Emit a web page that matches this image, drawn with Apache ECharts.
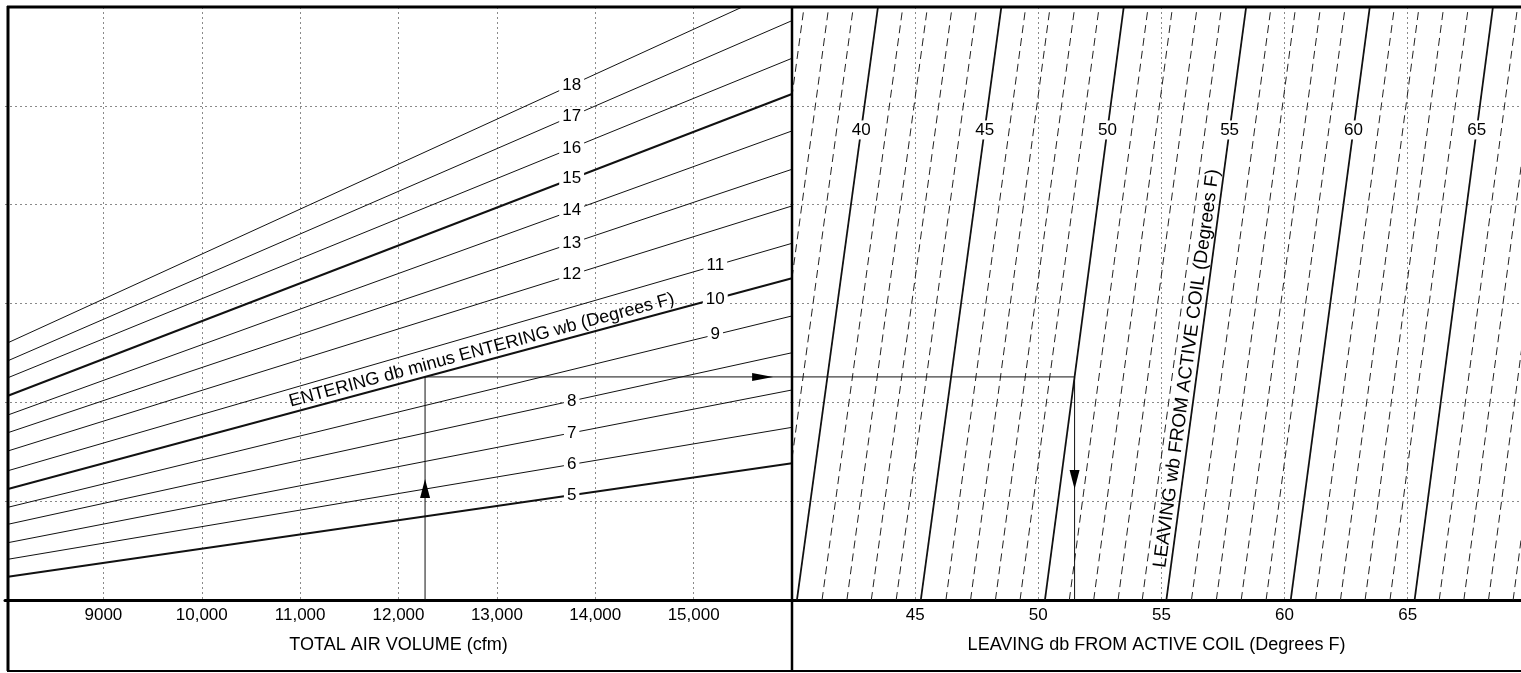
<!DOCTYPE html>
<html>
<head>
<meta charset="utf-8">
<title>Active coil leaving air chart</title>
<script src="https://cdn.jsdelivr.net/npm/echarts@6/dist/echarts.min.js"></script>
<style>
  html, body { margin: 0; padding: 0; background: #fff; }
  #chart { width: 1521px; height: 673px; }
</style>
</head>
<body>
<div id="chart"></div>
<script>
// left panel: entering db minus entering wb (deg F) lines, read at both ends
var diffLabels = [18, 17, 16, 15, 14, 13, 12, 11, 10, 9, 8, 7, 6, 5];
var diffAtStart = [26.03, 24.21, 22.49, 20.67, 18.72, 16.93, 15.08, 13.08, 11.23, 9.38, 7.66, 5.80, 4.12, 2.36];
var diffAtEnd = [62.3, 58.62, 54.81, 51.20, 47.46, 43.58, 39.87, 36.09, 32.55, 28.74, 25.02, 21.25, 17.47, 13.83];
var cfmStart = 8030;
var cfmEnd = 16000;

// right panel: leaving wb lines, leaving db where each meets bottom and top
var wbValues = [37, 38, 39, 40, 41, 42, 43, 44, 45, 46, 47, 48, 49, 50, 51, 52, 53,
  54, 55, 56, 57, 58, 59, 60, 61, 62, 63, 64, 65, 66, 67, 68, 69];
var wbDbAtBottom = [37.23, 38.23, 39.22, 40.2, 41.22, 42.23, 43.22, 44.23, 45.23, 46.25, 47.25,
  48.26, 49.26, 50.27, 51.26, 52.25, 53.24, 54.22, 55.2, 56.22, 57.23, 58.24, 59.25, 60.25,
  61.26, 62.27, 63.27, 64.28, 65.28, 66.28, 67.28, 68.28, 69.28];
var wbDbAtTop = [40.49, 41.49, 42.49, 43.49, 44.5, 45.5, 46.5, 47.5, 48.5, 49.49, 50.48,
  51.48, 52.47, 53.47, 54.46, 55.45, 56.45, 57.44, 58.44, 59.45, 60.45, 61.46, 62.46, 63.46,
  64.46, 65.46, 66.46, 67.46, 68.46, 69.46, 70.46, 71.46, 72.46];

// worked example drawn with arrows
var exampleCfm = 12270;
var exampleDiff = 10;
var exampleWb = 50;

var font = '"Liberation Sans", Arial, Helvetica, sans-serif';
var labelCfm = 13760;        // where the diff labels sit along their line
var labelCfmRight = 15220;   // 9, 10, 11 are labelled further right
var rightLabelled = [9, 10, 11];
var wbLabelLevel = 47.56;
var diffTitleCfm = 12870;
var wbTitleLevel = 23.3;

function lerp (a, b, t) {
  return a + (b - a) * t
}
function diffAt (i, cfm) {
  return lerp(diffAtStart[i], diffAtEnd[i], (cfm - cfmStart) / (cfmEnd - cfmStart))
}
function wbDbAt (j, level) {
  return lerp(wbDbAtBottom[j], wbDbAtTop[j], level / 60)
}
function cfmLabel (v) {
  if (v < 10000) return String(v)
  return Math.floor(v / 1000) + ',' + ('00' + (v % 1000)).slice(-3)
}

var gridLine = { show: true, showMinLine: false, showMaxLine: false, lineStyle: { color: '#8a8a8a', width: 1, type: [2, 3] } };

var series = [];

diffLabels.forEach(function (d, i) {
  series.push({
    type: 'line',
    xAxisIndex: 0,
    yAxisIndex: 0,
    data: [[cfmStart, diffAtStart[i]], [cfmEnd, diffAtEnd[i]]],
    symbol: 'none',
    clip: true,
    silent: true,
    z: 3,
    lineStyle: { color: '#111', width: d % 5 === 0 ? 2 : 1 }
  })
});

series.push({
  type: 'scatter',
  xAxisIndex: 0,
  yAxisIndex: 0,
  symbolSize: 1,
  itemStyle: { color: 'rgba(0,0,0,0)', opacity: 1 },
  z: 6,
  silent: true,
  label: {
    show: true,
    position: 'inside',
    formatter: '{b}',
    color: '#000',
    fontSize: 17,
    fontFamily: font,
    backgroundColor: '#fff',
    padding: [1, 3]
  },
  data: diffLabels.map(function (d, i) {
    var c = rightLabelled.indexOf(d) >= 0 ? labelCfmRight : labelCfm;
    return { name: String(d), value: [c, diffAt(i, c)] }
  })
});

wbValues.forEach(function (w, j) {
  var solid = w % 5 === 0;
  series.push({
    type: 'line',
    xAxisIndex: 1,
    yAxisIndex: 1,
    data: [[wbDbAtBottom[j], 0], [wbDbAtTop[j], 60]],
    symbol: 'none',
    clip: true,
    silent: true,
    z: 3,
    lineStyle: solid
      ? { color: '#111', width: 1.8 }
      : { color: '#222', width: 1, type: [8, 5] }
  })
});

series.push({
  type: 'scatter',
  xAxisIndex: 1,
  yAxisIndex: 1,
  symbolSize: 1,
  itemStyle: { color: 'rgba(0,0,0,0)', opacity: 1 },
  z: 6,
  silent: true,
  label: {
    show: true,
    position: 'inside',
    formatter: '{b}',
    color: '#000',
    fontSize: 17,
    fontFamily: font,
    backgroundColor: '#fff',
    padding: [1, 2]
  },
  data: wbValues.map(function (w, j) {
    return w % 5 === 0 ? { name: String(w), value: [wbDbAt(j, wbLabelLevel), wbLabelLevel] } : null
  }).filter(function (p) { return p })
});

// example path: up from the cfm, across at the diff line, down from the wb line
var iDiff = diffLabels.indexOf(exampleDiff);
var jWb = wbValues.indexOf(exampleWb);
var exLevel = diffAt(iDiff, exampleCfm);
var exDb = wbDbAt(jWb, exLevel);

series.push({
  type: 'line',
  xAxisIndex: 0,
  yAxisIndex: 0,
  data: [[exampleCfm, 0], [exampleCfm, exLevel], [cfmEnd, exLevel]],
  symbol: 'none',
  silent: true,
  z: 4,
  lineStyle: { color: '#111', width: 1 }
});
series.push({
  type: 'line',
  xAxisIndex: 1,
  yAxisIndex: 1,
  data: [[40, exLevel], [exDb, exLevel], [exDb, 0]],
  symbol: 'none',
  silent: true,
  z: 4,
  lineStyle: { color: '#111', width: 1 }
});
series.push({
  type: 'scatter',
  xAxisIndex: 0,
  yAxisIndex: 0,
  symbol: 'triangle',
  itemStyle: { color: '#000', opacity: 1 },
  silent: true,
  z: 5,
  data: [
    { value: [exampleCfm, exLevel * 0.5], symbolSize: [10, 19] },
    { value: [lerp(exampleCfm, cfmEnd, 0.92), exLevel], symbolSize: [8, 21], symbolRotate: -90 }
  ]
});
series.push({
  type: 'scatter',
  xAxisIndex: 1,
  yAxisIndex: 1,
  symbol: 'triangle',
  itemStyle: { color: '#000', opacity: 1 },
  silent: true,
  z: 5,
  data: [
    { value: [exDb, exLevel * 0.54], symbolSize: [10, 19], symbolRotate: 180 }
  ]
});

var option = {
  animation: false,
  backgroundColor: '#fff',
  grid: [
    { left: 5, top: 7, width: 787, height: 593 },
    { left: 792, top: 7, right: 0, height: 593 }
  ],
  xAxis: [
    {
      type: 'value',
      gridIndex: 0,
      min: 8000,
      max: 16000,
      interval: 1000,
      name: 'TOTAL AIR VOLUME (cfm)',
      nameLocation: 'middle',
      nameGap: 36,
      nameTextStyle: { color: '#000', fontSize: 18, fontFamily: font },
      axisLine: { show: true, lineStyle: { color: '#000', width: 3 } },
      axisTick: { show: false },
      axisLabel: {
        color: '#000',
        fontSize: 17,
        fontFamily: font,
        margin: 7,
        showMinLabel: false,
        showMaxLabel: false,
        formatter: cfmLabel
      },
      splitLine: gridLine
    },
    {
      type: 'value',
      gridIndex: 1,
      min: 40,
      max: 69.6,
      interval: 5,
      name: 'LEAVING db FROM ACTIVE COIL (Degrees F)',
      nameLocation: 'middle',
      nameGap: 36,
      nameTextStyle: { color: '#000', fontSize: 18, fontFamily: font },
      axisLine: { show: true, lineStyle: { color: '#000', width: 3 } },
      axisTick: { show: false },
      axisLabel: {
        color: '#000',
        fontSize: 17,
        fontFamily: font,
        margin: 7,
        showMinLabel: false,
        showMaxLabel: false
      },
      splitLine: gridLine
    }
  ],
  yAxis: [
    {
      type: 'value', gridIndex: 0, min: 0, max: 60, interval: 10,
      axisLine: { show: false }, axisTick: { show: false }, axisLabel: { show: false },
      splitLine: gridLine
    },
    {
      type: 'value', gridIndex: 1, min: 0, max: 60, interval: 10,
      axisLine: { show: false }, axisTick: { show: false }, axisLabel: { show: false },
      splitLine: gridLine
    }
  ],
  series: series
};

var chart = echarts.init(document.getElementById('chart'));
chart.setOption(option);

function px (grid, p) {
  return chart.convertToPixel({ gridIndex: grid }, p)
}

// rotated titles follow the line they sit on
var a = px(0, [cfmStart, diffAtStart[iDiff]]);
var b = px(0, [cfmEnd, diffAtEnd[iDiff]]);
var t1 = px(0, [diffTitleCfm, diffAt(iDiff, diffTitleCfm)]);
var j55 = wbValues.indexOf(55);
var c = px(1, [wbDbAtBottom[j55], 0]);
var d = px(1, [wbDbAtTop[j55], 60]);
var t2 = px(1, [wbDbAt(j55, wbTitleLevel), wbTitleLevel]);

var W = 1521;
function frameLine (id, x1, y1, x2, y2, w) {
  return { type: 'line', id: id, z: 30, silent: true, shape: { x1: x1, y1: y1, x2: x2, y2: y2 }, style: { stroke: '#000', lineWidth: w } }
}

chart.setOption({
  graphic: [
    frameLine('top', 7, 7, W, 7, 3),
    frameLine('left', 8, 6, 8, 671, 3),
    frameLine('bottom', 7, 671, W, 671, 2),
    frameLine('divider', 792, 6, 792, 671, 2.5),
    {
      type: 'text',
      id: 'diffTitle',
      z: 20,
      silent: true,
      x: t1[0],
      y: t1[1] - 2,
      rotation: Math.atan2(a[1] - b[1], b[0] - a[0]),
      style: {
        text: 'ENTERING db minus ENTERING wb (Degrees F)',
        fontSize: 18,
        fontFamily: font,
        fill: '#000',
        align: 'center',
        verticalAlign: 'bottom'
      }
    },
    {
      type: 'text',
      id: 'wbTitle',
      z: 20,
      silent: true,
      x: t2[0] - 1,
      y: t2[1],
      rotation: Math.atan2(c[1] - d[1], d[0] - c[0]),
      style: {
        text: 'LEAVING wb FROM ACTIVE COIL (Degrees F)',
        fontSize: 19,
        fontFamily: font,
        fill: '#000',
        align: 'center',
        verticalAlign: 'bottom'
      }
    }
  ]
});
</script>
</body>
</html>
